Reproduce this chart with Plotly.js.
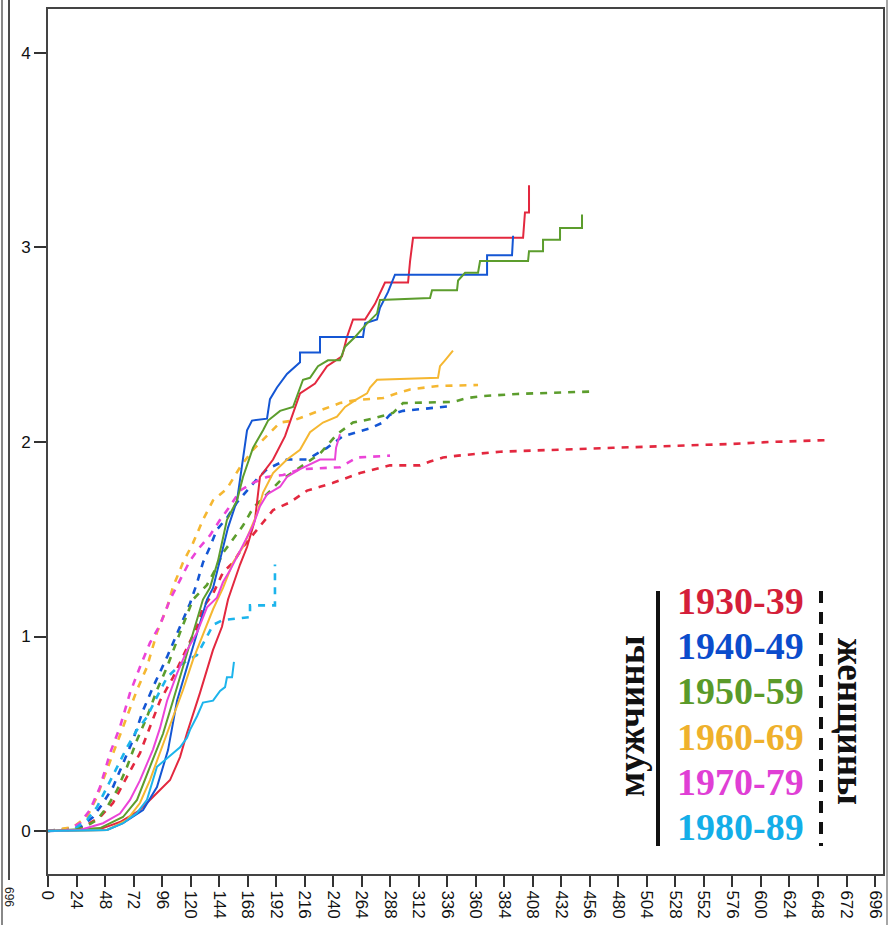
<!DOCTYPE html>
<html><head><meta charset="utf-8">
<script src="https://cdn.plot.ly/plotly-3.0.1.min.js"></script>
<style>html,body{margin:0;padding:0;background:#fff}#chart{width:894px;height:925px}</style>
</head><body><div id="chart"></div>
<script>
// Decade labels and colours
const decades = ["1930-39","1940-49","1950-59","1960-69","1970-79","1980-89"];
const colors  = ["#e3283f","#1456d4","#5c9d2d","#f5b731","#eb44d8","#1cb4ec"];
const labelColors = ["#d41f3a","#0b4ccc","#5a9a2a","#efb12c","#e03fd5","#14aee8"];
const menLabel = "мужчины";
const womenLabel = "женщины";
const xTicks = [0,24,48,72,96,120,144,168,192,216,240,264,288,312,336,360,384,408,432,456,480,504,528,552,576,600,624,648,672,696];
const yTicks = [0,1,2,3,4];

// Men (solid)
const m1930x = [0,43.8,60.6,77.4,90,102.7,111.1,117,127.9,138.8,146.4,151.5,161.6,167.5,174.2,178.4,189.4,199.5,212.1,224.7,234.8,247.4,251.6,256.7,266.8,275.2,283.6,303,304.7,307.2,399.8,401.4,404.8,404.8];
const m1930y = [0,0.01,0.046,0.108,0.185,0.262,0.38,0.504,0.71,0.93,1.05,1.19,1.37,1.46,1.60,1.82,1.91,2.03,2.25,2.30,2.39,2.44,2.54,2.63,2.63,2.71,2.82,2.82,2.93,3.05,3.05,3.18,3.18,3.32];

const m1940x = [0,49.7,63.1,80,91.7,101,108.6,117,125.4,133.8,138.9,144.8,151.5,159.1,164.1,167.5,171.7,184.3,186.8,192.7,201.1,212.1,212.1,228.9,228.9,265.1,266.8,276.9,279.4,286.1,292,369.5,369.5,390.5,391.4];
const m1940y = [0,0.005,0.04,0.108,0.226,0.416,0.67,0.84,1.02,1.19,1.25,1.39,1.56,1.70,1.91,2.06,2.11,2.12,2.22,2.28,2.35,2.41,2.46,2.46,2.54,2.54,2.61,2.63,2.69,2.77,2.86,2.86,2.96,2.96,3.06];

const m1950x = [0,43.8,63.1,74.9,85.8,96.8,105.2,113.6,122,130.4,136.3,143.1,150.6,159.1,164.1,172.5,181,185.2,195.3,206.2,214.6,220.5,227.2,235.6,245.7,250,258.4,268.5,276.9,279.4,321.5,323.2,344.2,345.1,351,361.9,363.6,404,404.8,416.6,416.6,430.9,430.9,449.4,449.4];
const m1950y = [0,0.015,0.072,0.16,0.33,0.50,0.67,0.84,1.02,1.19,1.25,1.39,1.60,1.70,1.82,1.97,2.06,2.11,2.16,2.18,2.32,2.33,2.39,2.42,2.42,2.49,2.54,2.61,2.66,2.73,2.74,2.78,2.78,2.83,2.87,2.87,2.93,2.93,2.98,2.98,3.04,3.04,3.10,3.10,3.17];

const m1960x = [0,49.7,66.5,77.4,85.8,94.3,105.2,113.6,122,130.4,138.9,147.3,155.7,164.1,170,175.9,181,189.4,201.1,212.1,220.5,231.4,243.2,250,260,268.5,271,276.9,328.2,329.9,334.1,340,340.8];
const m1960y = [0,0.005,0.057,0.144,0.262,0.40,0.586,0.725,0.88,1.01,1.14,1.25,1.38,1.46,1.55,1.63,1.74,1.84,1.91,1.96,2.05,2.10,2.13,2.18,2.22,2.25,2.28,2.32,2.33,2.39,2.42,2.46,2.47];

const m1970x = [0,26.9,46.3,60.6,69,77.4,88.4,94.3,100.2,108.6,117,125.4,133.8,142.2,147.3,153.2,161.6,167.5,172.5,178.4,184.3,195.3,201.1,212.1,228.9,241.5,242.4,245.7];
const m1970y = [0,0.005,0.04,0.09,0.16,0.26,0.42,0.53,0.67,0.81,0.93,1.02,1.15,1.20,1.28,1.34,1.44,1.51,1.57,1.67,1.73,1.77,1.82,1.86,1.91,1.91,1.97,2.04];

const m1980x = [0,49.7,63.1,74.9,83.3,88.4,91.7,105.2,111.1,117,119.5,125.4,130.4,138.9,144.8,149,150.6,154.9,156.5];
const m1980y = [0,0.005,0.04,0.093,0.16,0.26,0.33,0.40,0.43,0.48,0.52,0.59,0.66,0.67,0.72,0.74,0.79,0.79,0.87];

// Women (dashed)
const w1930x = [0,29.5,43.8,54.7,66.5,77.4,85.8,94.3,105.2,113.6,119.5,125.4,130.4,138.9,147.3,155.7,164.1,175.9,184.3,189.4,203.7,218,228.9,239.9,262.6,287.8,313.1,321.5,332.4,345.1,380.4,422.5,475.5,576.5,607.6,657.3];
const w1930y = [0,0.02,0.072,0.144,0.28,0.40,0.535,0.67,0.79,0.90,0.98,1.05,1.15,1.22,1.33,1.38,1.46,1.55,1.61,1.65,1.69,1.75,1.77,1.79,1.84,1.88,1.88,1.90,1.92,1.93,1.95,1.96,1.97,1.99,2.00,2.01];

const w1940x = [0,26.9,37.9,46.3,54.7,63.1,71.5,80,88.4,100.2,111.1,119.5,125.4,130.4,136.3,142.2,150.6,159.1,167.5,175.9,184.3,201.1,218,234.8,248.3,260,271,281.9,287.8,298.8,340];
const w1940y = [0,0.02,0.072,0.144,0.226,0.35,0.468,0.62,0.74,0.895,1.05,1.17,1.275,1.38,1.46,1.55,1.61,1.69,1.75,1.81,1.86,1.91,1.91,1.97,2.03,2.05,2.07,2.10,2.14,2.16,2.185];

const w1950x = [0,29.5,41.2,49.7,58.1,66.5,74.9,83.3,91.7,100.2,111.1,122,133.8,142.2,147.3,155.7,164.1,172.5,184.3,195.3,212.1,228.9,243.2,256.7,273.5,290.4,298.8,340.8,352.6,366.1,394.7,460.4];
const w1950y = [0,0.015,0.057,0.123,0.21,0.33,0.468,0.586,0.725,0.843,1.02,1.19,1.265,1.36,1.43,1.50,1.57,1.66,1.73,1.80,1.87,1.94,2.04,2.10,2.12,2.15,2.20,2.206,2.226,2.236,2.247,2.26];

const w1960x = [0,21,32.8,41.2,46.3,54.7,63.1,74.9,83.3,91.7,100.2,105.2,113.6,122,130.4,138.9,150.6,161.6,172.5,186.8,195.3,206.2,223,245.7,260,282,293.7,304.7,328.2,361.9];
const w1960y = [0,0.02,0.072,0.175,0.262,0.40,0.535,0.725,0.843,1.02,1.15,1.255,1.38,1.48,1.60,1.70,1.76,1.87,1.96,2.05,2.10,2.11,2.15,2.20,2.216,2.226,2.25,2.27,2.288,2.293];

const w1970x = [0,16,26.9,35.3,43.8,52.2,60.6,69,77.4,85.8,94.3,102.7,111.1,119.5,127.9,136.3,144.8,153.2,161.6,172.5,184.3,197.8,212.1,245.7,260,287.8];
const w1970y = [0,0.005,0.04,0.108,0.226,0.40,0.535,0.71,0.843,0.967,1.06,1.19,1.29,1.39,1.46,1.52,1.60,1.67,1.75,1.79,1.82,1.83,1.86,1.87,1.92,1.93];

const w1980x = [0,21,32.8,41.2,49.7,58.1,66.5,74.9,83.3,91.7,100.2,111.1,125.4,133.8,138.9,147.3,170,170,191,191];
const w1980y = [0,0.005,0.057,0.123,0.226,0.33,0.43,0.52,0.586,0.69,0.79,0.853,0.905,1.00,1.06,1.085,1.10,1.16,1.16,1.37];

const men = [[m1930x,m1930y],[m1940x,m1940y],[m1950x,m1950y],[m1960x,m1960y],[m1970x,m1970y],[m1980x,m1980y]];
const women = [[w1930x,w1930y],[w1940x,w1940y],[w1950x,w1950y],[w1960x,w1960y],[w1970x,w1970y],[w1980x,w1980y]];

const traces = [];
women.forEach((s,i)=>traces.push({x:s[0],y:s[1],type:'scatter',mode:'lines',line:{shape:'linear',color:colors[i],width:2.6,dash:'7px,7px'},name:decades[i]+' ж',hoverinfo:'skip'}));
men.forEach((s,i)=>traces.push({x:s[0],y:s[1],type:'scatter',mode:'lines',line:{shape:'linear',color:colors[i],width:2},name:decades[i]+' м',hoverinfo:'skip'}));

// layout helpers (pixel -> paper)
const L=48, T=9, W=835, H=865;
const px = v => (v-L)/W;
const py = v => (T+H-v)/H;

const annotations = decades.map((d,i)=>({
  xref:'paper', yref:'paper', x:px(740), y:py(601+45.2*i), xanchor:'center', yanchor:'middle',
  text:d, showarrow:false,
  font:{family:'Liberation Serif, Times New Roman, serif', size:38, color:labelColors[i], weight:700}
}));
annotations.push({xref:'paper',yref:'paper',x:px(631),y:py(716),xanchor:'center',yanchor:'middle',text:menLabel,textangle:-90,showarrow:false,
  font:{family:'Liberation Serif, Times New Roman, serif',size:37,color:'#111',weight:700}});
annotations.push({xref:'paper',yref:'paper',x:px(851),y:py(721),xanchor:'center',yanchor:'middle',text:womenLabel,textangle:90,showarrow:false,
  font:{family:'Liberation Serif, Times New Roman, serif',size:37,color:'#111',weight:700}});
annotations.push({xref:'paper',yref:'paper',x:px(9),y:py(897),xanchor:'center',yanchor:'middle',text:'696',textangle:90,showarrow:false,
  font:{family:'Liberation Sans, Arial, sans-serif',size:12,color:'#222'}});

const shapes = [
  {type:'line',xref:'paper',yref:'paper',x0:px(658),x1:px(658),y0:py(591),y1:py(846),line:{color:'#111',width:4}},
  {type:'line',xref:'paper',yref:'paper',x0:px(821),x1:px(821),y0:py(591),y1:py(846),line:{color:'#111',width:4,dash:'12px,9px'}},
  {type:'line',xref:'paper',yref:'paper',x0:px(2),x1:px(2),y0:py(0),y1:py(925),line:{color:'#888',width:2}},
  {type:'line',xref:'paper',yref:'paper',x0:px(9),x1:px(9),y0:py(0),y1:py(880),line:{color:'#111',width:1.5}},
  {type:'line',xref:'paper',yref:'paper',x0:px(887),x1:px(887),y0:py(0),y1:py(925),line:{color:'#888',width:1.5}}
];

const layout = {
  width:894, height:925,
  margin:{l:L, r:894-L-W, t:T, b:925-T-H, pad:0},
  paper_bgcolor:'#fff', plot_bgcolor:'#fff',
  showlegend:false,
  xaxis:{range:[0,702.7], tickvals:xTicks, ticktext:xTicks.map(String), tickangle:90, ticks:'outside', ticklen:11, tickwidth:2, tickcolor:'#333',
    showgrid:false, zeroline:false, showline:true, linecolor:'#444', linewidth:2, mirror:true,
    tickfont:{family:'Liberation Sans, Arial, sans-serif', size:17, color:'#111'}},
  yaxis:{range:[-0.221,4.226], tickvals:yTicks, ticktext:yTicks.map(String), ticks:'outside', ticklen:12, tickwidth:2, tickcolor:'#333',
    showgrid:false, zeroline:false, showline:true, linecolor:'#444', linewidth:2, mirror:true,
    tickfont:{family:'Liberation Sans, Arial, sans-serif', size:17, color:'#111'}},
  annotations:annotations,
  shapes:shapes
};
Plotly.newPlot('chart', traces, layout, {staticPlot:true, displayModeBar:false});
</script>
</body></html>
